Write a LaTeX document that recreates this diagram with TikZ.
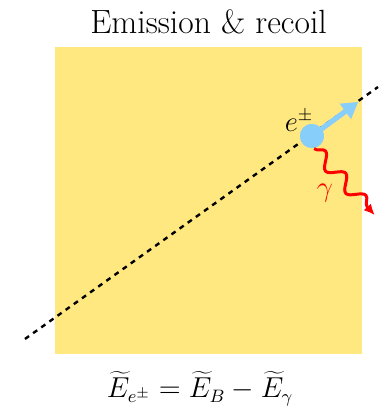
\documentclass[tikz,border=0pt]{standalone}
\usetikzlibrary{arrows.meta, decorations.pathmorphing}
\definecolor{boxyellow}{RGB}{255,232,128}
\definecolor{lepton}{RGB}{135,206,250}

\begin{document}
\begin{tikzpicture}[
    >=Latex, thick,
    track/.style={line width=1.2pt, dash pattern=on 2.5pt off 2.5pt},
    particle/.style={circle, fill=lepton, minimum size=12pt, inner sep=0pt},
    recoil/.style={lepton, line width=2.6pt, -{Triangle[length=8pt, width=9pt]}},
    photon/.style={red, line width=1.5pt, -{Latex[length=5.5pt, width=5pt]}, decorate,
        decoration={snake, amplitude=3.4pt, segment length=15pt, post length=5pt}},
    bigtext/.style={font=\fontsize{16.8}{20}\selectfont},
    mathtext/.style={font=\fontsize{13.4}{16}\selectfont}
]
\useasboundingbox (-0.966,-1.107) rectangle (5.746,6.221);
\fill[boxyellow] (0,0) rectangle (5.4,5.4);
\node[bigtext, anchor=base] (Title) at (2.7,5.64) {Emission \& recoil};
\coordinate (TrackIn) at (-0.527,0.264);
\coordinate (TrackOut) at (5.676,4.692);
\draw[track] (TrackIn) -- (TrackOut);
\coordinate (Kick) at (5.33,4.43);
\coordinate (GammaEnd) at (5.62,2.44);
\node[particle] (Lepton) at (4.516,3.831) {};
\draw[recoil] (Lepton.center) -- (Kick);
\node[particle] at (Lepton) {};
\draw[photon] (Lepton.-80) -- (GammaEnd);
\node[mathtext] (LeptonLabel) at (4.29,4.10) {$e^{\pm}$};
\node[mathtext, red] (GammaLabel) at (4.745,2.829) {$\gamma$};
\node[mathtext, anchor=base] (Balance) at (2.55,-0.773) {$\widetilde{E}_{e^{\pm}} = \widetilde{E}_B - \widetilde{E}_\gamma$};
\end{tikzpicture}
\end{document}
